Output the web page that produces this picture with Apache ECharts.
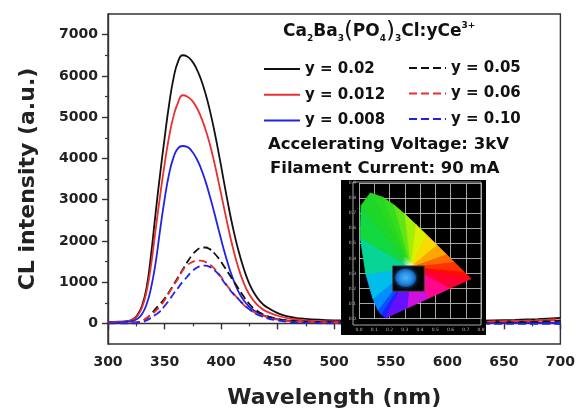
<!DOCTYPE html>
<html>
<head>
<meta charset="utf-8">
<script src="https://cdn.jsdelivr.net/npm/echarts@6/dist/echarts.min.js"></script>
<style>
  html, body { margin: 0; padding: 0; background: #fff; }
  #chart { width: 578px; height: 414px; }
</style>
</head>
<body>
<div id="chart"></div>
<script>
// Cathodoluminescence spectra of Ca2Ba3(PO4)3Cl:yCe3+
const wavelengthNm = [300, 310, 318, 322, 326, 330, 334, 338, 342, 346, 350, 354, 358, 362, 366,
  370, 374, 378, 382, 386, 390, 394, 398, 402, 406, 410, 415, 420, 425, 430, 435, 440, 450, 460,
  470, 480, 500, 520, 540, 560, 580, 600, 620, 640, 660, 680, 700];

const intensityY002 = [30, 40, 60, 100, 200, 420, 850, 1650, 2650, 3600, 4480, 5300, 5950, 6350, 6500,
  6470, 6370, 6190, 5930, 5590, 5170, 4670, 4110, 3510, 2920, 2380, 1800, 1330, 960, 700, 520, 400, 250, 165,
  120, 95, 75, 60, 55, 50, 50, 55, 60, 70, 85, 105, 130];
const intensityY0012 = [25, 35, 55, 90, 180, 380, 760, 1400, 2250, 3080, 3850, 4520, 5030, 5360, 5530,
  5500, 5410, 5250, 5020, 4720, 4350, 3900, 3400, 2880, 2360, 1880, 1370, 980, 700, 510, 380, 290, 185, 120,
  85, 62, 45, 35, 30, 30, 30, 30, 35, 40, 50, 60, 75];
const intensityY0008 = [20, 25, 40, 60, 110, 220, 450, 850, 1450, 2250, 3000, 3620, 4030, 4250, 4300,
  4280, 4180, 4010, 3770, 3460, 3090, 2680, 2250, 1830, 1450, 1120, 790, 560, 400, 295, 220, 170, 105, 65,
  42, 30, 20, 15, 10, 10, 10, 10, 10, 10, 10, 10, 10];
const intensityY005 = [10, 10, 15, 20, 30, 60, 120, 220, 350, 470, 600, 760, 940, 1120, 1300,
  1480, 1640, 1760, 1830, 1840, 1800, 1700, 1570, 1410, 1240, 1070, 860, 650, 470, 340, 250, 185, 110, 70,
  50, 40, 30, 25, 20, 20, 20, 20, 25, 30, 35, 45, 60];
const intensityY006 = [5, 5, 10, 15, 25, 60, 130, 200, 300, 410, 560, 740, 920, 1090, 1280,
  1410, 1480, 1515, 1520, 1490, 1430, 1330, 1200, 1050, 890, 750, 600, 450, 340, 260, 205, 160, 90, 55,
  40, 30, 20, 15, 10, 10, 15, 20, 30, 45, 60, 80, 110];
const intensityY010 = [0, 0, 0, 0, 5, 25, 70, 130, 210, 290, 420, 560, 720, 860, 1010,
  1130, 1250, 1340, 1390, 1400, 1370, 1290, 1180, 1020, 880, 740, 600, 460, 340, 240, 180, 130, 70, 35,
  15, 5, 0, -5, -10, -10, -10, -10, -10, -10, -10, -10, -15];

const seriesNames = ['y = 0.02', 'y = 0.012', 'y = 0.008', 'y = 0.05', 'y = 0.06', 'y = 0.10'];
const seriesValues = [intensityY002, intensityY0012, intensityY0008, intensityY005, intensityY006, intensityY010];
const seriesColors = ['#111111', '#e8302f', '#2222e6', '#111111', '#e8302f', '#2222e6'];
const seriesDashed = [false, false, false, true, true, true];

const yMajorTicks = [0, 1000, 2000, 3000, 4000, 5000, 6000, 7000];
const yMinorTicks = [500, 1500, 2500, 3500, 4500, 5500, 6500];

// CIE 1931 chromaticity inset: spectral locus, then the line of purples back to the start
const cieX = [0.1741, 0.1440, 0.1241, 0.0913, 0.0454, 0.0082, 0.0139, 0.0743, 0.1547, 0.2296, 0.3016,
  0.3731, 0.4441, 0.5125, 0.5752, 0.6270, 0.6915, 0.7347, 0.5945, 0.4544, 0.3143];
const cieY = [0.0050, 0.0297, 0.0578, 0.1327, 0.2950, 0.5384, 0.7502, 0.8338, 0.8059, 0.7543, 0.6923,
  0.6245, 0.5547, 0.4866, 0.4242, 0.3725, 0.3083, 0.2653, 0.2003, 0.1352, 0.0701];
const cieColor = ['#2a10ff', '#1030ff', '#0070ff', '#00aaff', '#00d0d8', '#10d850', '#18d830', '#22d820',
  '#28dc20', '#40e018', '#80ec10', '#c0f400', '#f4f000', '#ffc400', '#ff8800', '#ff4c00', '#ff1800',
  '#ff0000', '#ff0060', '#ff10c0', '#a010ff'];
const cieWhite = [0.34, 0.34];
const sampleBox = [0.221, 0.182, 0.428, 0.350];
const samplePoint = [0.306, 0.271];

const FONT = 'DejaVu Sans';
const chart = echarts.init(document.getElementById('chart'), null, { renderer: 'canvas' });

const mainSeries = seriesNames.map((name, i) => ({
  name,
  type: 'line',
  xAxisIndex: 0,
  yAxisIndex: 0,
  data: wavelengthNm.map((w, k) => [w, seriesValues[i][k]]),
  symbol: 'none',
  smooth: 0.5,
  z: 3,
  lineStyle: { color: seriesColors[i], width: 1.8, type: seriesDashed[i] ? [8, 4] : 'solid' },
  itemStyle: { color: seriesColors[i] },
  emphasis: { disabled: true }
}));

function cieSector(params, api) {
  const i = api.value(2);
  const j = (i + 1) % cieX.length;
  const w = api.coord(cieWhite);
  const p1 = api.coord([cieX[i], cieY[i]]);
  const p2 = api.coord([cieX[j], cieY[j]]);
  const m = [(p1[0] + p2[0]) / 2, (p1[1] + p2[1]) / 2];
  const c = echarts.color.lerp(0.5, [cieColor[i], cieColor[j]]);
  const grad = new echarts.graphic.LinearGradient(w[0], w[1], m[0], m[1], [
    { offset: 0, color: '#ffffff' },
    { offset: 0.16, color: c },
    { offset: 1, color: c }
  ], true);
  return {
    type: 'polygon',
    shape: { points: [w, p1, p2] },
    style: { fill: grad, stroke: grad, lineWidth: 0.8 }
  };
}

const legendText = { fontFamily: FONT, fontWeight: 'bold', fontSize: 15, color: '#111', lineHeight: 18 };

const option = {
  animation: false,
  backgroundColor: '#ffffff',
  textStyle: { fontFamily: FONT },
  grid: [
    { left: 108, top: 14, width: 453, height: 331.7, show: true, borderColor: '#333', borderWidth: 1.4, backgroundColor: 'transparent' },
    { left: 359, top: 183, width: 122, height: 135.7, show: false }
  ],
  xAxis: [
    {
      gridIndex: 0, type: 'value', min: 300, max: 700, interval: 50,
      name: 'Wavelength (nm)', nameLocation: 'middle', nameGap: 43,
      nameTextStyle: { fontFamily: FONT, fontWeight: 'bold', fontSize: 22, color: '#222' },
      axisLine: { lineStyle: { color: '#333', width: 1.4 } },
      axisTick: { length: 6, lineStyle: { color: '#333', width: 1.4 } },
      minorTick: { show: true, splitNumber: 2, length: 3, lineStyle: { color: '#333', width: 1.2 } },
      axisLabel: { margin: 11, fontFamily: FONT, fontWeight: 'bold', fontSize: 14, color: '#222' },
      splitLine: { show: false }
    },
    {
      gridIndex: 1, type: 'value', min: 0, max: 0.8, interval: 0.1, z: 15,
      axisLine: { show: false }, axisTick: { show: false },
      axisLabel: { margin: 9, fontSize: 4.5, color: '#bbb', formatter: v => v.toFixed(1) },
      splitLine: { show: true, lineStyle: { color: '#b8b8b8', width: 0.9 } }
    }
  ],
  yAxis: [
    {
      gridIndex: 0, type: 'value', min: -500, max: 7500,
      name: 'CL intensity (a.u.)', nameLocation: 'middle', nameGap: 69,
      nameTextStyle: { fontFamily: FONT, fontWeight: 'bold', fontSize: 22, color: '#222' },
      axisLine: { lineStyle: { color: '#333', width: 1.4 } },
      axisTick: { length: 6, customValues: yMajorTicks, lineStyle: { color: '#333', width: 1.4 } },
      axisLabel: {
        margin: 10, customValues: yMajorTicks, formatter: v => String(v),
        fontFamily: FONT, fontWeight: 'bold', fontSize: 14, color: '#222'
      },
      splitLine: { show: false }
    },
    {
      gridIndex: 0, type: 'value', min: -500, max: 7500, position: 'left',
      axisLine: { show: false },
      axisTick: { length: 3, customValues: yMinorTicks, lineStyle: { color: '#333', width: 1.2 } },
      axisLabel: { show: false },
      splitLine: { show: false }
    },
    {
      gridIndex: 1, type: 'value', min: 0, max: 0.9, interval: 0.1, z: 15,
      axisLine: { show: false }, axisTick: { show: false },
      axisLabel: { margin: 3, fontSize: 4.5, color: '#bbb', formatter: v => v.toFixed(1) },
      splitLine: { show: true, lineStyle: { color: '#b8b8b8', width: 0.9 } }
    }
  ],
  legend: [
    {
      data: seriesNames.slice(0, 3), orient: 'vertical', left: 263, top: 60, padding: 0,
      itemWidth: 36, itemHeight: 18, itemGap: 7.8, selectedMode: false,
      itemStyle: { opacity: 0 },
      textStyle: legendText
    },
    {
      data: seriesNames.slice(3), orient: 'vertical', left: 408, top: 59, padding: 0,
      itemWidth: 37, itemHeight: 18, itemGap: 7.5, selectedMode: false,
      itemStyle: { opacity: 0 },
      textStyle: legendText
    }
  ],
  graphic: [
    {
      type: 'text', x: 283, y: 32, z: 5,
      style: {
        text: '{m|Ca}{s|2}{m|Ba}{s|3}{p|(}{m|PO}{s|4}{p|)}{s|3}{m|Cl:yCe}{u|3+}',
        verticalAlign: 'middle',
        rich: {
          m: { fontFamily: FONT, fontWeight: 'bold', fontSize: 17, lineHeight: 22, fill: '#111', verticalAlign: 'middle' },
          s: { fontFamily: FONT, fontWeight: 'bold', fontSize: 9, lineHeight: 9, fill: '#111', verticalAlign: 'bottom' },
          u: { fontFamily: FONT, fontWeight: 'bold', fontSize: 9, lineHeight: 9, fill: '#111', verticalAlign: 'top' },
          p: { fontFamily: FONT, fontWeight: 'normal', fontSize: 23, lineHeight: 22, fill: '#111', verticalAlign: 'middle' }
        }
      }
    },
    {
      type: 'text', x: 268, y: 145, z: 5,
      style: { text: 'Accelerating Voltage: 3kV', fontFamily: FONT, fontWeight: 'bold', fontSize: 16.5, fill: '#111', verticalAlign: 'middle' }
    },
    {
      type: 'text', x: 270, y: 169, z: 5,
      style: { text: 'Filament Current: 90 mA', fontFamily: FONT, fontWeight: 'bold', fontSize: 16.5, fill: '#111', verticalAlign: 'middle' }
    },
    {
      type: 'rect', z: 10,
      shape: { x: 341, y: 180, width: 145, height: 155 },
      style: { fill: '#000000' }
    },
    {
      type: 'rect', z: 12,
      shape: { x: 353, y: 182, width: 128, height: 143 },
      style: { fill: null, stroke: '#b8b8b8', lineWidth: 0.9 }
    }
  ],
  series: mainSeries.concat([
    {
      name: 'CIE gamut', type: 'custom', xAxisIndex: 1, yAxisIndex: 2, z: 20,
      renderItem: cieSector,
      data: cieX.map((x, i) => [x, cieY[i], i]),
      encode: { x: 0, y: 1 },
      silent: true
    },
    {
      name: 'sample frame', type: 'custom', xAxisIndex: 1, yAxisIndex: 2, z: 21,
      renderItem: (params, api) => {
        const a = api.coord([api.value(0), api.value(3)]);
        const b = api.coord([api.value(2), api.value(1)]);
        return {
          type: 'rect',
          shape: { x: a[0], y: a[1], width: b[0] - a[0], height: b[1] - a[1] },
          style: { fill: '#050505', stroke: '#444', lineWidth: 1 }
        };
      },
      data: [sampleBox],
      encode: { x: [0, 2], y: [1, 3] },
      silent: true
    },
    {
      name: 'sample emission', type: 'scatter', xAxisIndex: 1, yAxisIndex: 2, z: 22,
      data: [samplePoint],
      symbol: 'circle', symbolSize: [21, 18],
      itemStyle: {
        color: new echarts.graphic.RadialGradient(0.5, 0.5, 0.5, [
          { offset: 0, color: '#5cc4ff' },
          { offset: 0.6, color: '#2a9af2' },
          { offset: 1, color: '#0f5fc8' }
        ]),
        shadowBlur: 4, shadowColor: '#1e7fe0'
      },
      silent: true
    }
  ])
};

chart.setOption(option);
</script>
</body>
</html>
